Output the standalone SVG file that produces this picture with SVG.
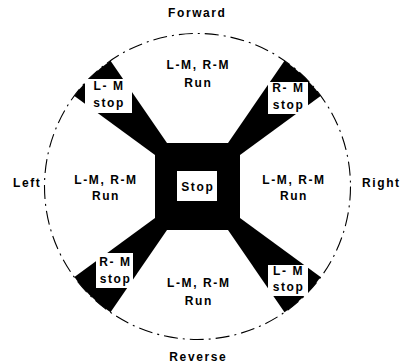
<svg xmlns="http://www.w3.org/2000/svg" width="402" height="364" viewBox="0 0 402 364">
  <defs>
    <clipPath id="disc">
      <circle cx="197.5" cy="186.5" r="153"/>
    </clipPath>
    <style>
      text { font-family: "Liberation Sans", Arial, sans-serif; font-weight: bold; font-size: 12px; letter-spacing: 1.6px; fill: #000; text-anchor: middle; }
      .edge { text-anchor: start; }
      .box { fill: #fff; }
      .arm { fill: #000; }
      .rim { fill: none; stroke: #000; stroke-width: 1.1; stroke-dasharray: 14 5 2 5; }
    </style>
  </defs>

  <rect width="402" height="364" fill="#fff"/>

  <!-- black hub and the four diagonal arms, cut off at the rim -->
  <g id="arms" clip-path="url(#disc)">
    <rect class="arm" x="155" y="143" width="85" height="87"/>
    <polygon class="arm" points="167,143 81.5,18.5 32,65 155,155"/>
    <polygon class="arm" points="228,143 313.5,18.5 363,65 240,155"/>
    <polygon class="arm" points="167,230 81.5,354.5 32,308 155,218"/>
    <polygon class="arm" points="228,230 313.5,354.5 363,308 240,218"/>
  </g>

  <circle class="rim" cx="197.5" cy="186.5" r="153"/>

  <!-- direction labels -->
  <g id="labels">
    <text x="197.3" y="17">Forward</text>
    <text x="198.3" y="361">Reverse</text>
    <text class="edge" x="13" y="187">Left</text>
    <text class="edge" x="362" y="187">Right</text>
  </g>

  <!-- white sectors: both motors running -->
  <g id="run-forward">
    <text x="198.3" y="69">L-M, R-M</text>
    <text x="198.3" y="87">Run</text>
  </g>
  <g id="run-left">
    <text x="106" y="184">L-M, R-M</text>
    <text x="106" y="200">Run</text>
  </g>
  <g id="run-right">
    <text x="294" y="184">L-M, R-M</text>
    <text x="294" y="200">Run</text>
  </g>
  <g id="run-reverse">
    <text x="198.8" y="287">L-M, R-M</text>
    <text x="198.8" y="305">Run</text>
  </g>

  <!-- centre stop -->
  <g id="stop">
    <rect class="box" x="177" y="171" width="40" height="30"/>
    <text x="197.8" y="190.5">Stop</text>
  </g>

  <!-- corner boxes: one motor stopped -->
  <g id="lm-stop-top">
    <rect class="box" x="85" y="79" width="47" height="34"/>
    <text x="109" y="90">L- M</text>
    <text x="109" y="107">stop</text>
  </g>
  <g id="rm-stop-top">
    <rect class="box" x="268" y="82" width="40" height="32"/>
    <text x="288.5" y="92">R- M</text>
    <text x="288.5" y="109">stop</text>
  </g>
  <g id="rm-stop-bottom">
    <rect class="box" x="96" y="253" width="37" height="35"/>
    <text x="115.5" y="266">R- M</text>
    <text x="115.5" y="283">stop</text>
  </g>
  <g id="lm-stop-bottom">
    <rect class="box" x="268" y="265" width="40" height="31"/>
    <text x="288.5" y="275">L- M</text>
    <text x="288.5" y="291">stop</text>
  </g>
</svg>
